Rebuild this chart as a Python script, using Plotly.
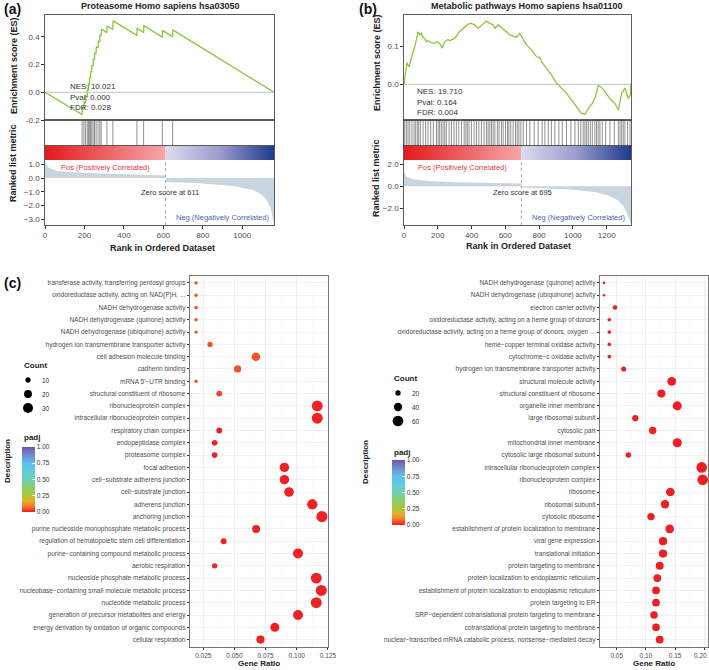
import plotly.graph_objects as go

W, H = 709, 670
FONT = "Liberation Sans, Arial, Helvetica, sans-serif"
TXT = "#333333"
TICK = "#4d4d4d"

# ---------------- panel (a) data ----------------
a_title = "Proteasome Homo sapiens hsa03050"
a_total = 1161
a_zero = 611
a_es_rank = [0, 188, 189, 197, 198, 205, 206, 214, 215, 220, 221, 225, 226, 231, 232, 237, 238,
             244, 245, 251, 252, 259, 260, 269, 270, 278, 279, 285, 286, 314, 315, 344, 345,
             466, 467, 500, 501, 595, 596, 647, 648, 1161]
a_es_value = [0, -0.161, -0.112, -0.119, -0.070, -0.076, -0.027, -0.034, 0.016, 0.011, 0.060,
              0.057, 0.107, 0.102, 0.152, 0.147, 0.197, 0.191, 0.241, 0.235, 0.285, 0.278, 0.328,
              0.320, 0.370, 0.363, 0.412, 0.406, 0.455, 0.430, 0.478, 0.452, 0.515, 0.410, 0.460,
              0.432, 0.480, 0.398, 0.446, 0.401, 0.450, 0.0]
a_hits = [188, 197, 205, 214, 220, 225, 231, 237, 244, 251, 259, 269, 278, 285, 314, 344,
          466, 500, 595, 647]
a_metric_rank = [0, 5, 14, 31, 64, 141, 276, 446, 611, 612, 785, 954, 1056, 1098, 1124, 1144, 1154, 1161]
a_metric_value = [1.21, 1.0, 0.81, 0.67, 0.52, 0.43, 0.33, 0.26, 0.19, -0.29, -0.38, -0.57,
                  -0.86, -1.21, -1.57, -2.17, -2.88, -3.36]
a_stats = ["NES: 10.021", "Pval: 0.000", "FDR: 0.028"]
a_xticks = [0, 200, 400, 600, 800, 1000]
a_es_ticks = [-0.2, 0.0, 0.2, 0.4]
a_es_ticktext = ["-0.2", "0.0", "0.2", "0.4"]
a_metric_ticks = [1.0, 0.0, -1.0, -2.0, -3.0]
a_metric_ticktext = ["1.0", "0.0", "\u22121.0", "\u22122.0", "\u22123.0"]

# ---------------- panel (b) data ----------------
b_title = "Metabolic pathways Homo sapiens hsa01100"
b_total = 1344
b_zero = 695
b_es_rank = [0, 8, 18, 24, 30, 40, 53, 63, 73, 83, 93, 103, 113, 123, 132, 142, 162, 182, 192,
             202, 217, 225, 233, 241, 261, 271, 281, 300, 310, 320, 340, 360, 379, 399, 419, 439,
             449, 458, 478, 488, 508, 528, 538, 557, 567, 587, 607, 626, 646, 666, 686, 706, 725,
             755, 785, 804, 814, 844, 874, 903, 933, 962, 992, 1022, 1051, 1071, 1091, 1115, 1134,
             1150, 1170, 1190, 1219, 1249, 1269, 1289, 1308, 1328, 1340, 1344]
b_es_value = [0, 0.033, 0.057, 0.050, 0.046, 0.063, 0.081, 0.098, 0.116, 0.137, 0.129, 0.133,
              0.123, 0.120, 0.111, 0.114, 0.109, 0.107, 0.111, 0.109, 0.103, 0.094, 0.103, 0.111,
              0.117, 0.114, 0.116, 0.120, 0.126, 0.133, 0.142, 0.150, 0.157, 0.159, 0.155, 0.146,
              0.150, 0.152, 0.161, 0.165, 0.159, 0.155, 0.146, 0.155, 0.152, 0.143, 0.137, 0.129,
              0.126, 0.123, 0.133, 0.116, 0.103, 0.090, 0.072, 0.070, 0.059, 0.042, 0.024, 0.003,
              -0.010, -0.023, -0.041, -0.058, -0.076, -0.078, -0.063, -0.050, -0.032, -0.003,
              -0.008, -0.019, -0.037, -0.050, -0.067, -0.023, -0.010, -0.037, -0.028, 0.003]
b_hits = [4, 14, 24, 34, 47, 59, 69, 79, 87, 97, 113, 128, 142, 158, 174, 192, 202, 211, 221,
          231, 241, 251, 267, 281, 296, 310, 324, 340, 356, 366, 375, 385, 399, 415, 429, 443,
          458, 474, 488, 498, 508, 518, 528, 538, 553, 563, 577, 587, 601, 613, 621, 632, 646,
          660, 670, 680, 692, 706, 725, 745, 771, 794, 818, 834, 854, 873, 893, 917, 937, 962,
          988, 1012, 1032, 1047, 1061, 1071, 1081, 1091, 1103, 1115, 1130, 1140, 1150, 1160,
          1174, 1194, 1219, 1245, 1269, 1279, 1289, 1298, 1308, 1324, 1338]
b_metric_rank = [0, 4, 14, 34, 63, 142, 300, 498, 694, 696, 794, 992, 1130, 1209, 1269, 1298,
                 1318, 1332, 1344]
b_metric_value = [1.48, 1.17, 0.92, 0.74, 0.62, 0.49, 0.37, 0.31, 0.25, -0.12, -0.18, -0.30,
                  -0.52, -0.83, -1.30, -1.75, -2.37, -3.00, -3.40]
b_stats = ["NES: 19.710", "Pval: 0.164", "FDR: 0.004"]
b_xticks = [0, 200, 400, 600, 800, 1000, 1200]
b_es_ticks = [0.0, 0.1]
b_es_ticktext = ["0.0", "0.1"]
b_metric_ticks = [2.0, 0.0, -2.0]
b_metric_ticktext = ["2.0", "0.0", "\u22122.0"]

# ---------------- panel (c) left data ----------------
left_terms = [
    "transferase activity, transferring pentosyl groups",
    "oxidoreductase activity, acting on NAD(P)H, ...",
    "NADH dehydrogenase activity",
    "NADH dehydrogenase (quinone) activity",
    "NADH dehydrogenase (ubiquinone) activity",
    "hydrogen ion transmembrane transporter activity",
    "cell adhesion molecule binding",
    "cadherin binding",
    "mRNA 5'\u2212UTR binding",
    "structural constituent of ribosome",
    "ribonucleoprotein complex",
    "intracellular ribonucleoprotein complex",
    "respiratory chain complex",
    "endopeptidase complex",
    "proteasome complex",
    "focal adhesion",
    "cell\u2212substrate adherens junction",
    "cell\u2212substrate junction",
    "adherens junction",
    "anchoring junction",
    "purine nucleoside monophosphate metabolic process",
    "regulation of hematopoietic stem cell differentiation",
    "purine\u2212containing compound metabolic process",
    "aerobic respiration",
    "nucleoside phosphate metabolic process",
    "nucleobase\u2212containing small molecule metabolic process",
    "nucleotide metabolic process",
    "generation of precursor metabolites and energy",
    "energy derivation by oxidation of organic compounds",
    "cellular respiration",
]
left_ratio = [0.0192, 0.0192, 0.0192, 0.0192, 0.0192, 0.0304, 0.0672, 0.0525, 0.0192, 0.0378,
              0.1165, 0.1165, 0.0378, 0.0341, 0.0341, 0.0901, 0.0901, 0.0938, 0.1125, 0.1202,
              0.0674, 0.0413, 0.1010, 0.0341, 0.1157, 0.1197, 0.1157, 0.1010, 0.0824, 0.0709]
left_count = [5, 5, 5, 5, 5, 10, 23, 17, 5, 12,
              35, 35, 12, 11, 11, 27, 27, 28, 32, 36,
              20, 12, 30, 10, 35, 36, 35, 30, 25, 21]
left_padj = [0.05, 0.05, 0.05, 0.05, 0.05, 0.05, 0.055, 0.055, 0.05, 0.045,
             0.006, 0.006, 0.006, 0.006, 0.006, 0.006, 0.006, 0.006, 0.006, 0.006,
             0.006, 0.006, 0.006, 0.006, 0.006, 0.006, 0.006, 0.006, 0.006, 0.006]
left_xticks = [0.025, 0.050, 0.075, 0.100, 0.125]
left_xticktext = ["0.025", "0.050", "0.075", "0.100", "0.125"]
left_count_legend = [10, 20, 30]

# ---------------- panel (c) right data ----------------
right_terms = [
    "NADH dehydrogenase (quinone) activity",
    "NADH dehydrogenase (ubiquinone) activity",
    "electron carrier activity",
    "oxidoreductase activity, acting on a heme group of donors",
    "oxidoreductase activity, acting on a heme group of donors, oxygen ...",
    "heme\u2212copper terminal oxidase activity",
    "cytochrome\u2212c oxidase activity",
    "hydrogen ion transmembrane transporter activity",
    "structural molecule activity",
    "structural constituent of ribosome",
    "organelle inner membrane",
    "large ribosomal subunit",
    "cytosolic part",
    "mitochondrial inner membrane",
    "cytosolic large ribosomal subunit",
    "intracellular ribonucleoprotein complex",
    "ribonucleoprotein complex",
    "ribosome",
    "ribosomal subunit",
    "cytosolic ribosome",
    "establishment of protein localization to membrane",
    "viral gene expression",
    "translational initiation",
    "protein targeting to membrane",
    "protein localization to endoplasmic reticulum",
    "establishment of protein localization to endoplasmic reticulum",
    "protein targeting to ER",
    "SRP\u2212dependent cotranslational protein targeting to membrane",
    "cotranslational protein targeting to membrane",
    "nuclear\u2212transcribed mRNA catabolic process, nonsense\u2212mediated decay",
]
right_ratio = [0.0283, 0.0283, 0.0471, 0.0373, 0.0373, 0.0373, 0.0373, 0.0620, 0.1442, 0.1264,
               0.1537, 0.0818, 0.1116, 0.1537, 0.0699, 0.1955, 0.1972, 0.1418, 0.1327, 0.1087,
               0.1407, 0.1293, 0.1293, 0.1236, 0.1195, 0.1173, 0.1173, 0.1139, 0.1173, 0.1236]
right_count = [8, 8, 16, 12, 12, 12, 12, 19, 43, 38,
               46, 25, 33, 46, 21, 59, 59, 43, 40, 33,
               42, 39, 39, 37, 36, 35, 35, 34, 35, 37]
right_padj = [0.002] * 30
right_xticks = [0.05, 0.10, 0.15, 0.20]
right_xticktext = ["0.05", "0.10", "0.15", "0.20"]
right_count_legend = [20, 40, 60]

padj_ticks = [0.0, 0.25, 0.5, 0.75, 1.0]
padj_ticktext = ["0.00", "0.25", "0.50", "0.75", "1.00"]

# ---------------- styling ----------------
PADJ_SCALE = [[0.0, "#ee1c24"], [0.1, "#f5822a"], [0.18, "#e3b327"], [0.25, "#a5c93b"],
              [0.4, "#86cf70"], [0.5, "#6fcfb5"], [0.62, "#5fcde0"], [0.75, "#5fbfe8"],
              [0.87, "#6a8fd4"], [1.0, "#7652ac"]]


def size_left(c):
    return 2.03 * c ** 0.5 - 1.12


def size_right(c):
    return 1.65 * c ** 0.5 - 2.07


def fx(px):
    return px / W


def fy(py):
    return 1 - py / H


def sfx(n):
    return "" if n == 1 else str(n)


fig = go.Figure()
layout = dict(width=W, height=H, margin=dict(l=0, r=0, t=0, b=0, pad=0, autoexpand=False),
              autosize=False, paper_bgcolor="white", plot_bgcolor="white", showlegend=False,
              font=dict(family=FONT, color=TXT), template="none")
annotations = []
shapes = []


def ann(text, x, y, size, color=TXT, bold=False, xanchor="center", yanchor="middle", angle=0):
    annotations.append(dict(text=("<b>%s</b>" % text) if bold else text, x=fx(x), y=fy(y),
                            xref="paper", yref="paper", showarrow=False, xanchor=xanchor,
                            yanchor=yanchor, textangle=angle,
                            font=dict(size=size, color=color, family=FONT)))


def base_axis(**kw):
    d = dict(showgrid=False, zeroline=False, showline=True, mirror=True, linecolor="#333333",
             linewidth=0.8, ticks="", showticklabels=False, automargin=False, fixedrange=True)
    d.update(kw)
    return d


def gsea(n0, xl, xr, total, zero, es_r, es_v, es_range, es_t, es_tt, hits, hit_col, m_r, m_v,
         m_range, m_t, m_tt, cb_bottom, xticks):
    n_es, n_hit, n_rk = n0, n0 + 1, n0 + 2
    dom_x = [fx(xl), fx(xr)]
    for n, top, bot in [(n_es, 15, 120), (n_hit, 120, 146), (n_rk, 146, 225)]:
        layout["xaxis" + sfx(n)] = base_axis(domain=dom_x, range=[0, total], anchor="y" + sfx(n))
        layout["yaxis" + sfx(n)] = base_axis(domain=[fy(bot), fy(top)], anchor="x" + sfx(n))
    layout["yaxis" + sfx(n_es)].update(range=es_range, tickvals=es_t, ticktext=es_tt,
                                       ticks="outside", ticklen=3, tickcolor="#333333",
                                       showticklabels=True, tickfont=dict(size=8, color=TICK))
    layout["yaxis" + sfx(n_hit)].update(range=[0, 1])
    layout["yaxis" + sfx(n_rk)].update(range=m_range, tickvals=m_t, ticktext=m_tt,
                                       ticks="outside", ticklen=3, tickcolor="#333333",
                                       showticklabels=True, tickfont=dict(size=8, color=TICK))
    layout["xaxis" + sfx(n_rk)].update(tickvals=xticks, ticks="outside", ticklen=3,
                                       tickcolor="#333333", showticklabels=True,
                                       tickfont=dict(size=8, color=TICK))
    shapes.append(dict(type="line", xref="x" + sfx(n_es), yref="y" + sfx(n_es), x0=0, x1=total,
                       y0=0, y1=0, line=dict(color="#c4c4c4", width=1), layer="below"))
    fig.add_trace(go.Scatter(x=es_r, y=es_v, mode="lines", line=dict(color="#8cc63f", width=1.3),
                             xaxis="x" + sfx(n_es), yaxis="y" + sfx(n_es), hoverinfo="skip"))
    hx, hy = [], []
    for h in hits:
        hx += [h, h, None]
        hy += [0, 1, None]
    fig.add_trace(go.Scatter(x=hx, y=hy, mode="lines", line=dict(color=hit_col, width=0.9),
                             xaxis="x" + sfx(n_hit), yaxis="y" + sfx(n_hit), hoverinfo="skip"))
    fig.add_trace(go.Scatter(x=m_r, y=m_v, mode="lines", fill="tozeroy", fillcolor="#c8d4de",
                             line=dict(width=0, color="#c8d4de"),
                             xaxis="x" + sfx(n_rk), yaxis="y" + sfx(n_rk), hoverinfo="skip"))
    top = m_range[1]
    fig.add_trace(go.Scatter(x=[0, zero, zero, 0], y=[cb_bottom, cb_bottom, top, top],
                             fill="toself", mode="none",
                             fillgradient=dict(type="horizontal",
                                               colorscale=[[0, "#e41a1c"], [1, "#f6a7ab"]]),
                             xaxis="x" + sfx(n_rk), yaxis="y" + sfx(n_rk), hoverinfo="skip"))
    fig.add_trace(go.Scatter(x=[zero, total, total, zero], y=[cb_bottom, cb_bottom, top, top],
                             fill="toself", mode="none",
                             fillgradient=dict(type="horizontal",
                                               colorscale=[[0, "#dcdcef"], [0.5, "#9a9ccc"],
                                                           [1, "#1e3b8e"]]),
                             xaxis="x" + sfx(n_rk), yaxis="y" + sfx(n_rk), hoverinfo="skip"))
    shapes.append(dict(type="line", xref="x" + sfx(n_rk), yref="y" + sfx(n_rk), x0=zero, x1=zero,
                       y0=m_range[0], y1=cb_bottom, line=dict(color="#9a9a9a", width=0.8, dash="dot")))


# (a)
gsea(1, 45, 274, a_total, a_zero, a_es_rank, a_es_value, [-0.2, 0.557], a_es_ticks, a_es_ticktext,
     a_hits, "rgba(90,90,90,0.75)", a_metric_rank, a_metric_value, [-3.41, 2.33], a_metric_ticks,
     a_metric_ticktext, 1.31, a_xticks)
# (b)
gsea(4, 404, 631, b_total, b_zero, b_es_rank, b_es_value, [-0.093, 0.181], b_es_ticks,
     b_es_ticktext, b_hits, "rgba(50,50,50,0.6)", b_metric_rank, b_metric_value, [-3.52, 3.66],
     b_metric_ticks, b_metric_ticktext, 2.39, b_xticks)

# GSEA texts
ann("(a)", 2, 9, 14, "#111111", bold=True, xanchor="left")
ann(a_title, 160, 6, 9, "#222222", bold=True)
ann("(b)", 357, 9, 14, "#111111", bold=True, xanchor="left")
ann(b_title, 527, 6, 9, "#222222", bold=True)
for i, s in enumerate(a_stats):
    ann(s, 68, 87 + 10.2 * i, 8, TXT, xanchor="left")
for i, s in enumerate(b_stats):
    ann(s, 415, 92 + 10.4 * i, 8, TXT, xanchor="left")
ann("Enrichment score (ES)", 14, 66, 9, "#222222", bold=True, angle=-90)
ann("Ranked list metric", 13, 163, 9, "#222222", bold=True, angle=-90)
ann("Enrichment score (ES)", 377, 62, 9, "#222222", bold=True, angle=-90)
ann("Ranked list metric", 376, 178, 9, "#222222", bold=True, angle=-90)
ann("Rank in Ordered Dataset", 162, 248, 9, "#222222", bold=True)
ann("Rank in Ordered Dataset", 518, 246, 9, "#222222", bold=True)
ann("Pos (Positively Correlated)", 105, 168, 7.5, "#ee3340")
ann("Zero score at %d" % a_zero, 170, 192, 7.5, TXT)
ann("Neg (Negatively Correlated)", 222, 218, 7.5, "#4a5fb5")
ann("Pos (Positively Correlated)", 462, 168, 7.5, "#ee3340")
ann("Zero score at %d" % b_zero, 522, 192, 7.5, TXT)
ann("Neg (Negatively Correlated)", 578, 218, 7.5, "#4a5fb5")


# ---------------- dot plots ----------------
def dotplot(n, xl, xr, terms, ratio, count, padj, xrange, xticks, xticktext, minor, sizefn,
            cb_x, cb_top, cb_bot):
    layout["xaxis" + sfx(n)] = dict(domain=[fx(xl), fx(xr)], range=xrange, tickvals=xticks,
                                    ticktext=xticktext, ticks="outside", ticklen=2.5,
                                    tickcolor="#333333", tickfont=dict(size=6.5, color=TICK),
                                    showline=True, mirror=True, linecolor="#555555",
                                    linewidth=0.8, showgrid=True, gridcolor="#e8e8e8",
                                    gridwidth=0.6, zeroline=False, automargin=False,
                                    anchor="y" + sfx(n), fixedrange=True,
                                    minor=dict(dtick=minor, tick0=xticks[0], showgrid=True,
                                               gridcolor="#f4f4f4", gridwidth=0.5, ticks=""))
    layout["yaxis" + sfx(n)] = dict(domain=[fy(647), fy(275.5)], type="category",
                                    categoryorder="array", categoryarray=terms,
                                    range=[len(terms) - 1 + 0.6, -0.6], ticks="outside",
                                    ticklen=2.5, tickcolor="#333333",
                                    tickfont=dict(size=6.5, color=TICK), showline=True,
                                    mirror=True, linecolor="#555555", linewidth=0.8,
                                    showgrid=True, gridcolor="#e8e8e8", gridwidth=0.6,
                                    zeroline=False, automargin=False, anchor="x" + sfx(n),
                                    fixedrange=True)
    fig.add_trace(go.Scatter(
        x=ratio, y=terms, mode="markers", xaxis="x" + sfx(n), yaxis="y" + sfx(n),
        hoverinfo="skip", cliponaxis=True,
        marker=dict(size=[sizefn(c) for c in count], color=padj, cmin=0, cmax=1,
                    colorscale=PADJ_SCALE, line=dict(width=0), opacity=1, showscale=True,
                    colorbar=dict(x=fx(cb_x), xanchor="left", xref="paper",
                                  y=fy((cb_top + cb_bot) / 2), yanchor="middle", yref="paper",
                                  len=cb_bot - cb_top, lenmode="pixels", thickness=13,
                                  thicknessmode="pixels", xpad=0, ypad=0, outlinewidth=0,
                                  tickvals=padj_ticks, ticktext=padj_ticktext, ticks="inside",
                                  ticklen=3, tickcolor="white", tickwidth=1,
                                  tickfont=dict(size=6.5, color=TXT, family=FONT),
                                  title=dict(text="")))))


dotplot(7, 190, 328.5, left_terms, left_ratio, left_count, left_padj, [0.0143, 0.1255],
        left_xticks, left_xticktext, 0.0125, size_left, 22, 446.7, 512)
# the last right-hand tick label sits on the page edge: drawn as a right-aligned note instead
dotplot(8, 600, 708, right_terms, right_ratio, right_count, right_padj, [0.0214, 0.2063],
        right_xticks, right_xticktext[:-1] + [""], 0.025, size_right, 392, 460, 525)
ann(right_xticktext[-1], 708.5, 655.5, 6.5, TICK, xanchor="right")

ann("(c)", 2, 283, 14, "#111111", bold=True, xanchor="left")
ann("Description", 7, 461, 8, "#222222", bold=True, angle=-90)
ann("Description", 365, 462, 8, "#222222", bold=True, angle=-90)
ann("Gene Ratio", 259, 663, 8, "#222222", bold=True)
ann("Gene Ratio", 654, 663, 8, "#222222", bold=True)


def count_legend(x0, y_title, y_dots, values, sizefn, lab_x):
    ann("Count", x0, y_title, 8, "#222222", bold=True, xanchor="left")
    cx = x0 + 6
    for v, cy in zip(values, y_dots):
        d = sizefn(v)
        shapes.append(dict(type="circle", xref="paper", yref="paper", x0=fx(cx - d / 2),
                           x1=fx(cx + d / 2), y0=fy(cy + d / 2), y1=fy(cy - d / 2),
                           fillcolor="black", line=dict(width=0)))
        ann(str(v), lab_x, cy, 6.5, TXT, xanchor="left")


count_legend(22, 365, [380, 394, 408], left_count_legend, size_left, 40)
ann("padj", 22, 437, 8, "#222222", bold=True, xanchor="left")
count_legend(392, 378, [393, 407, 421], right_count_legend, size_right, 410)
ann("padj", 392, 452, 8, "#222222", bold=True, xanchor="left")

layout["annotations"] = annotations
layout["shapes"] = shapes
fig.update_layout(**layout)
fig.write_html("out.html",
               config={"displayModeBar": False, "staticPlot": True},
               post_script="document.body.style.margin='0px';"
                           "document.body.style.padding='0px';"
                           "document.body.style.overflow='hidden';")
